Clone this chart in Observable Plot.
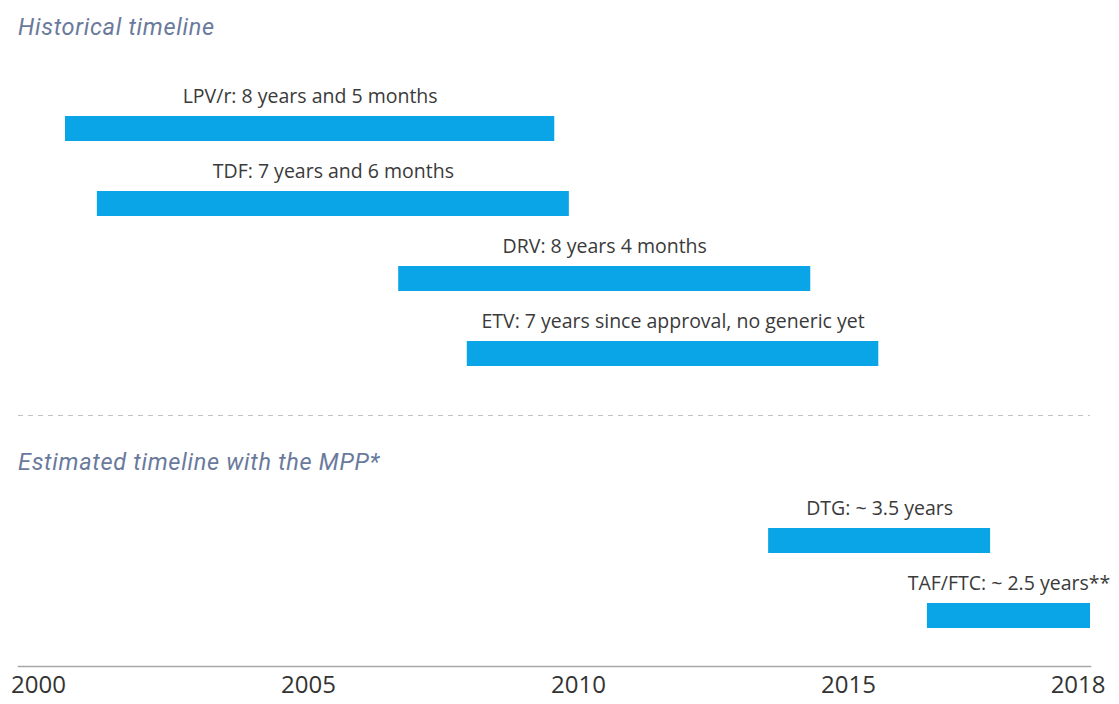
<!DOCTYPE html>
<html>
<head>
<meta charset="utf-8">
<script src="https://cdn.jsdelivr.net/npm/d3@7"></script>
<script src="https://cdn.jsdelivr.net/npm/@observablehq/plot@0.6"></script>
<style>
  body { margin: 0; background: #fff; width: 1119px; height: 704px; position: relative; overflow: hidden; }
  .title { position: absolute; left: 18px; font-family: Roboto, "Open Sans", sans-serif; font-style: italic; font-size: 23.5px; letter-spacing: 0.7px; line-height: 30px; color: #6a7a9c; white-space: nowrap; }
  .sep { position: absolute; left: 18px; width: 1072px; top: 415px; height: 1px;
         background: repeating-linear-gradient(to right, #c2c2c2 0 5px, transparent 5px 10px); }
  #p1 { position: absolute; left: 0; top: 60px; }
  #p2 { position: absolute; left: 0; top: 480px; }
</style>
</head>
<body>
<div class="title" style="top:12px">Historical timeline</div>
<div id="p1"></div>
<div class="sep"></div>
<div class="title" style="top:447px">Estimated timeline with the MPP*</div>
<div id="p2"></div>
<script>
// ---- data ----
const historicalDrugs  = ["LPV/r", "TDF", "DRV", "ETV"];
const historicalStart  = [2000.50, 2001.09, 2006.67, 2007.94];
const historicalEnd    = [2009.56, 2009.83, 2014.30, 2015.56];
const historicalLabels = [
  "LPV/r: 8 years and 5 months",
  "TDF: 7 years and 6 months",
  "DRV: 8 years 4 months",
  "ETV: 7 years since approval, no generic yet"
];

const estimatedDrugs  = ["DTG", "TAF/FTC"];
const estimatedStart  = [2013.52, 2016.46];
const estimatedEnd    = [2017.63, 2019.48];
const estimatedLabels = ["DTG: ~ 3.5 years", "TAF/FTC: ~ 2.5 years**"];

const xDomain    = [1999.63, 2019.48];
const tickValues = [2000, 2005, 2010, 2015, 2019.25];
const tickLabels = ["2000", "2005", "2010", "2015", "2018"];

// ---- build ----
const rowsOf = (drugs, start, end, labels) =>
  drugs.map((drug, i) => ({drug, start: start[i], end: end[i], label: labels[i]}));

const historical = rowsOf(historicalDrugs, historicalStart, historicalEnd, historicalLabels);
const estimated  = rowsOf(estimatedDrugs, estimatedStart, estimatedEnd, estimatedLabels);

const BAR = "#0aa5e6";

function timeline(rows, drugs, height, yRange, withAxis) {
  const marks = [
    Plot.barX(rows, {x1: "start", x2: "end", y: "drug", fill: BAR, insetTop: 25, insetBottom: 25}),
    Plot.text(rows, {x: d => (d.start + d.end) / 2, y: "drug", text: "label", dy: -32,
                     fontSize: 19.5, fill: "#3a3a3a"})
  ];
  if (withAxis) {
    marks.push(Plot.frame({anchor: "bottom", stroke: "#a8a8a8", strokeWidth: 1.5}));
    marks.push(Plot.axisX({
      ticks: tickValues,
      tickFormat: d => tickLabels[tickValues.indexOf(d)],
      tickSize: 0, tickPadding: 9, fontSize: 24, fill: "#333", label: null
    }));
  }
  return Plot.plot({
    width: 1119,
    height,
    marginLeft: 18,
    marginRight: 29,
    marginTop: 0,
    marginBottom: height - yRange[1] - (withAxis ? 13.5 : 0),
    style: {fontFamily: '"Open Sans", sans-serif', background: "transparent", overflow: "visible"},
    x: {domain: xDomain, axis: withAxis ? undefined : null},
    y: {domain: drugs, range: yRange, padding: 0, axis: null},
    marks
  });
}

document.getElementById("p1").append(timeline(historical, historicalDrugs, 340, [30.5, 330.5], false));
document.getElementById("p2").append(timeline(estimated, estimatedDrugs, 224, [22.5, 172.5], true));
</script>
</body>
</html>
